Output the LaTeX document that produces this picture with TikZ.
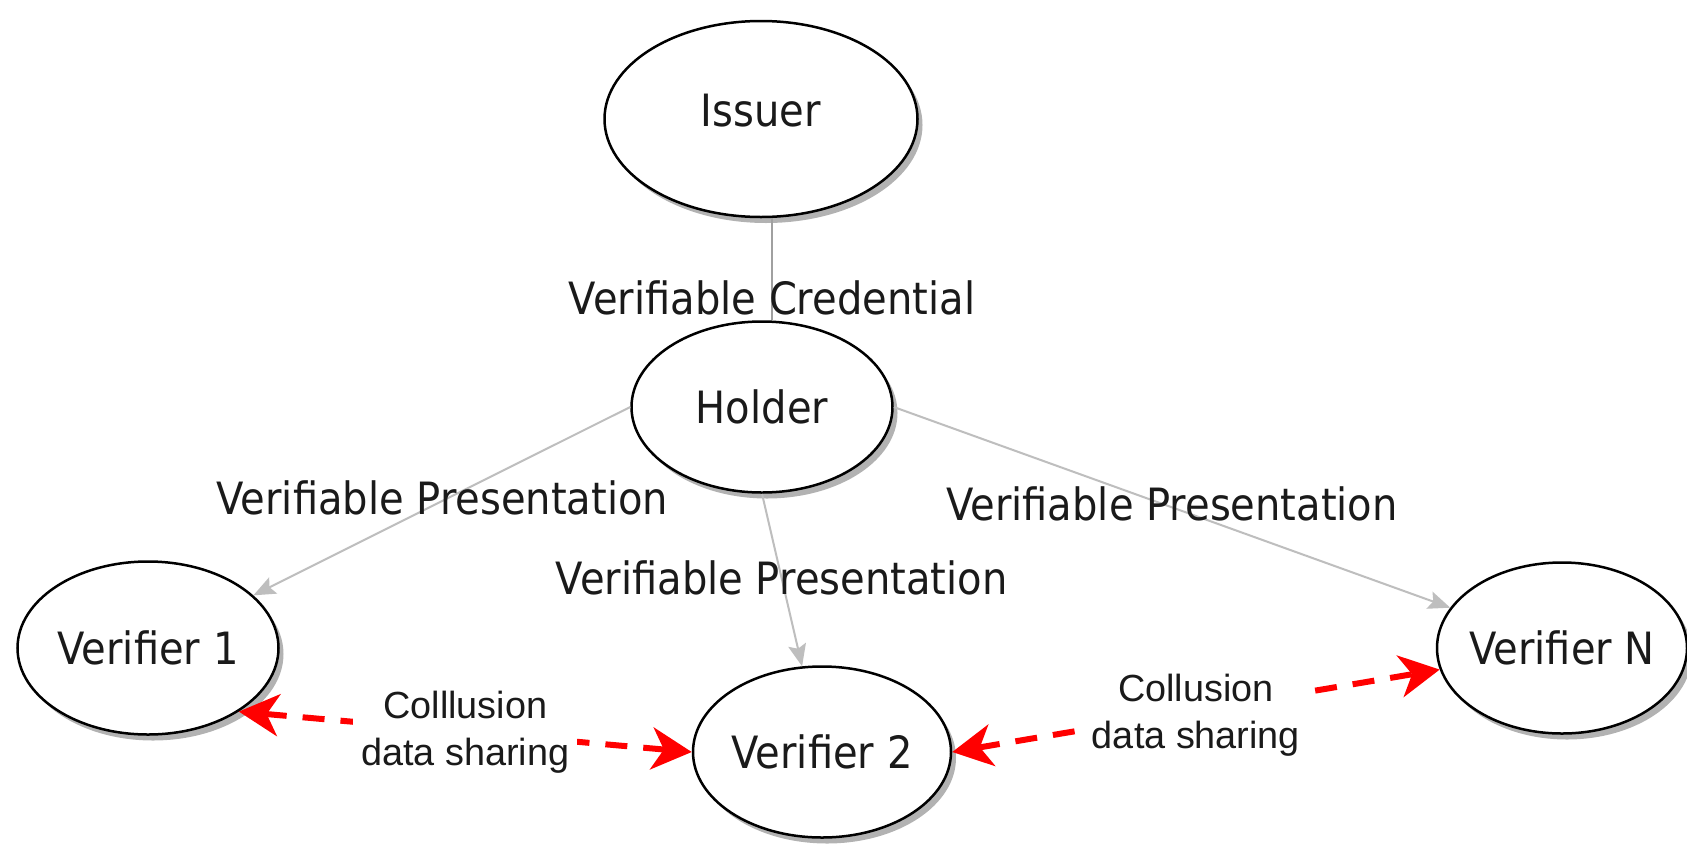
\documentclass[tikz,border=0pt]{standalone}
\usepackage{fontspec}
\setmainfont{DejaVu Sans}[FakeStretch=0.9]
\newfontfamily\collfont{Liberation Sans}
\usetikzlibrary{arrows.meta,shapes.geometric,shadows}
\definecolor{lgray}{HTML}{BEBEBE}
\definecolor{mgray}{HTML}{A0A0A0}
\definecolor{txt}{HTML}{1A1A1A}
\tikzset{
  ent/.style={ellipse, draw=black, line width=2.5pt, fill=white, inner sep=0pt, text=txt,
    font=\fontsize{44.5pt}{50pt}\selectfont,
    drop shadow={shadow xshift=5pt, shadow yshift=-6pt, opacity=0.3, fill=black}},
  flow/.style={draw=lgray, line width=2pt, -{Stealth[length=22pt,width=18pt,inset=4pt]}},
  cred/.style={draw=mgray, line width=1.5pt},
  lbl/.style={text=txt, font=\fontsize{44.5pt}{50pt}\selectfont, inner sep=0pt},
  coll/.style={draw=red, line width=6pt, dash pattern=on 22pt off 16pt,
    {Stealth[length=40pt,width=42pt,inset=12pt]}-{Stealth[length=40pt,width=42pt,inset=12pt]}},
  colllbl/.style={fill=white, text=txt, font=\collfont\fontsize{37.8pt}{47pt}\selectfont,
    align=center, inner xsep=8pt, inner ysep=1pt},
}
\begin{document}
\begin{tikzpicture}[x=1pt,y=-1pt]
\fill[white] (0,0) rectangle (1687,852);
\useasboundingbox (0,0) rectangle (1687,852);

\node[ent, minimum width=313pt, minimum height=196pt] (issuer) at (761,119)
  {\makebox[0pt]{\raisebox{9pt}[\height][0pt]{Issuer}}};
\node[ent, minimum width=261pt, minimum height=171pt] (holder) at (762,407)
  {\makebox[0pt]{Holder}};
\node[ent, minimum width=261pt, minimum height=173pt] (v1) at (148,648)
  {\makebox[0pt]{Verifier 1}};
\node[ent, minimum width=258pt, minimum height=171pt] (v2) at (822,752)
  {\makebox[0pt]{Verifier 2}};
\node[ent, minimum width=250pt, minimum height=171pt] (vN) at (1562,648)
  {\makebox[0pt]{Verifier N}};

\draw[cred] ([xshift=11pt]issuer.south) -- ([xshift=10pt]holder.north)
  node[lbl, pos=0.78] {Verifiable Credential};

\draw[flow] (holder.west) -- (v1)
  node[lbl, pos=0.48, xshift=-7pt] {Verifiable Presentation};
\draw[flow] (holder.south) -- (v2)
  node[lbl, pos=0.49] {Verifiable Presentation};
\draw[flow] (holder.east) -- (vN)
  node[lbl, pos=0.5, yshift=3pt] {Verifiable Presentation};

\draw[coll] (v1.-35) -- (v2.west)
  node[colllbl, pos=0.5] {Colllusion\\data sharing};
\draw[coll] (v2.east) -- (vN.190)
  node[colllbl, pos=0.5, yshift=-4pt] {Collusion\\data sharing};
\end{tikzpicture}
\end{document}
